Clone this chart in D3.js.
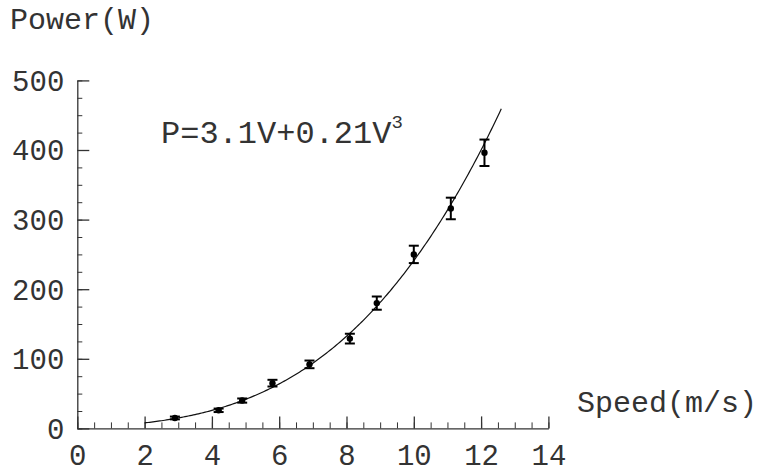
<!DOCTYPE html>
<html>
<head>
<meta charset="utf-8">
<script src="https://cdn.jsdelivr.net/npm/d3@7"></script>
<style>
  html, body { margin: 0; padding: 0; background: #fff; }
  svg text { font-family: "Liberation Mono", "DejaVu Sans Mono", monospace; fill: #333; }
</style>
</head>
<body>
<svg id="chart" width="762" height="473"></svg>
<script>
// ---- data ----
const speed = [2.9, 4.2, 4.9, 5.8, 6.9, 8.1, 8.9, 10.0, 11.1, 12.1];
const power = [15, 26, 40, 65, 92, 129, 180, 250, 316, 396];
const powerErr = [2, 2.5, 3, 4.8, 5.5, 7, 9.5, 12.5, 15.5, 19];
const xTicks = [0, 2, 4, 6, 8, 10, 12, 14];
const yTicks = [0, 100, 200, 300, 400, 500];
const fitCoef = [3.1, 0.21];      // P = a*V + b*V^3
const fitRange = [2, 12.6];
const xTitle = "Speed(m/s)";
const yTitle = "Power(W)";

const svg = d3.select("#chart");
const x = d3.scaleLinear().domain([0, 14]).range([77.3, 548.4]);
const y = d3.scaleLinear().domain([0, 500]).range([428.4, 80.4]);

const FS = 30, TFS = 29;

// minor ticks
svg.append("g").attr("transform", `translate(0,${y(0)})`)
  .call(d3.axisBottom(x).tickValues(d3.range(0, 14.01, 0.5)).tickSizeInner(-6).tickSizeOuter(0).tickFormat(""))
  .call(g => g.select(".domain").remove())
  .call(g => g.selectAll("line").attr("stroke", "#333"));
svg.append("g").attr("transform", `translate(${x(0)},0)`)
  .call(d3.axisLeft(y).tickValues(d3.range(0, 500.1, 25)).tickSizeInner(-5).tickSizeOuter(0).tickFormat(""))
  .call(g => g.select(".domain").remove())
  .call(g => g.selectAll("line").attr("stroke", "#333"));

// major axes
const xAxis = svg.append("g").attr("transform", `translate(0,${y(0)})`)
  .call(d3.axisBottom(x).tickValues(xTicks).tickSizeInner(-12).tickSizeOuter(0).tickPadding(0));
xAxis.selectAll("text").attr("font-size", TFS).attr("dy", null).attr("y", 37)
  .attr("font-family", "Liberation Mono").attr("fill", "#333");
const yAxis = svg.append("g").attr("transform", `translate(${x(0)},0)`)
  .call(d3.axisLeft(y).tickValues(yTicks).tickSizeInner(-12).tickSizeOuter(0).tickPadding(13));
yAxis.selectAll("text").attr("font-size", TFS).attr("dy", "0.34em")
  .attr("font-family", "Liberation Mono").attr("fill", "#333");
svg.selectAll(".domain").attr("stroke", "#333").attr("stroke-width", 1.3);
xAxis.selectAll("line").attr("stroke", "#333").attr("stroke-width", 1.3);
yAxis.selectAll("line").attr("stroke", "#333").attr("stroke-width", 1.3);

// titles
svg.append("text").attr("x", 10).attr("y", 29).attr("font-size", FS).text(yTitle);
svg.append("text").attr("x", 577).attr("y", 412).attr("font-size", FS).text(xTitle);

// fit curve
const curveV = d3.range(fitRange[0], fitRange[1] + 0.001, 0.05);
svg.append("path")
  .datum(curveV)
  .attr("fill", "none").attr("stroke", "#111").attr("stroke-width", 1.2)
  .attr("d", d3.line().x(v => x(v)).y(v => y(fitCoef[0] * v + fitCoef[1] * v * v * v)));

// error bars
const pts = speed.map((s, i) => ({ s, p: power[i], e: powerErr[i] }));
const eb = svg.append("g").attr("stroke", "#000").attr("stroke-width", 2);
pts.forEach(d => {
  eb.append("line").attr("x1", x(d.s)).attr("x2", x(d.s)).attr("y1", y(d.p - d.e)).attr("y2", y(d.p + d.e));
  [d.p - d.e, d.p + d.e].forEach(v => {
    eb.append("line").attr("x1", x(d.s) - 5).attr("x2", x(d.s) + 5).attr("y1", y(v)).attr("y2", y(v));
  });
});
svg.append("g").selectAll("circle").data(pts).join("circle")
  .attr("cx", d => x(d.s)).attr("cy", d => y(d.p)).attr("r", 3.2).attr("fill", "#000");

// equation
const eq = svg.append("text").attr("x", 161).attr("y", 143).attr("font-size", 32);
eq.append("tspan").text("P=3.1V+0.21V");
eq.append("tspan").attr("font-size", 19).attr("dy", -15).text("3");
</script>
</body>
</html>
